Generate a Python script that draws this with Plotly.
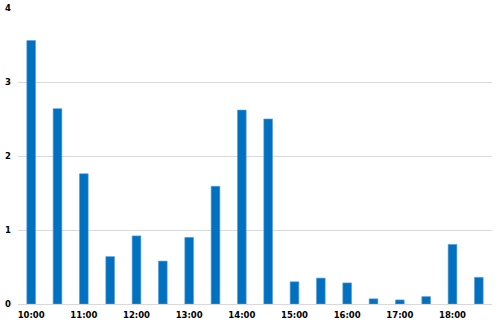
import plotly.graph_objects as go

times = ["10:00", "10:30", "11:00", "11:30", "12:00", "12:30", "13:00", "13:30",
         "14:00", "14:30", "15:00", "15:30", "16:00", "16:30", "17:00", "17:30",
         "18:00", "18:30"]
values = [3.56, 2.64, 1.76, 0.64, 0.92, 0.58, 0.90, 1.59,
          2.62, 2.50, 0.30, 0.35, 0.285, 0.07, 0.055, 0.10,
          0.805, 0.36]
hour_ticks = ["10:00", "11:00", "12:00", "13:00", "14:00", "15:00", "16:00", "17:00", "18:00"]
y_ticks = [0, 1, 2, 3, 4]

fig = go.Figure(go.Bar(
    x=times, y=values,
    marker=dict(color="#0070C0", line=dict(color="#5B9BD5", width=0.6)),
))

font = dict(family="DejaVu Sans", size=8.5, color="#000000")
fig.update_layout(
    width=499, height=325,
    margin=dict(l=18, r=7, t=8, b=21),
    paper_bgcolor="white", plot_bgcolor="white",
    bargap=0.67,
    showlegend=False,
    font=font,
)
fig.update_xaxes(
    type="category", range=[-0.5, 17.5], automargin=False,
    tickmode="array", tickvals=hour_ticks, ticktext=["<b>%s</b>" % t for t in hour_ticks],
    showgrid=False, showline=False, ticks="", tickfont=font, ticklabelstandoff=4,
)
fig.update_yaxes(
    range=[0, 4], tickmode="array", tickvals=y_ticks, automargin=False,
    ticktext=["<b>%d</b>" % v for v in y_ticks],
    showgrid=True, gridcolor="#D9D9D9", gridwidth=1,
    zeroline=True, zerolinecolor="#D9D9D9", zerolinewidth=1,
    showline=False, ticks="", tickfont=font, ticklabelstandoff=6,
)
fig.write_html("out.html")
